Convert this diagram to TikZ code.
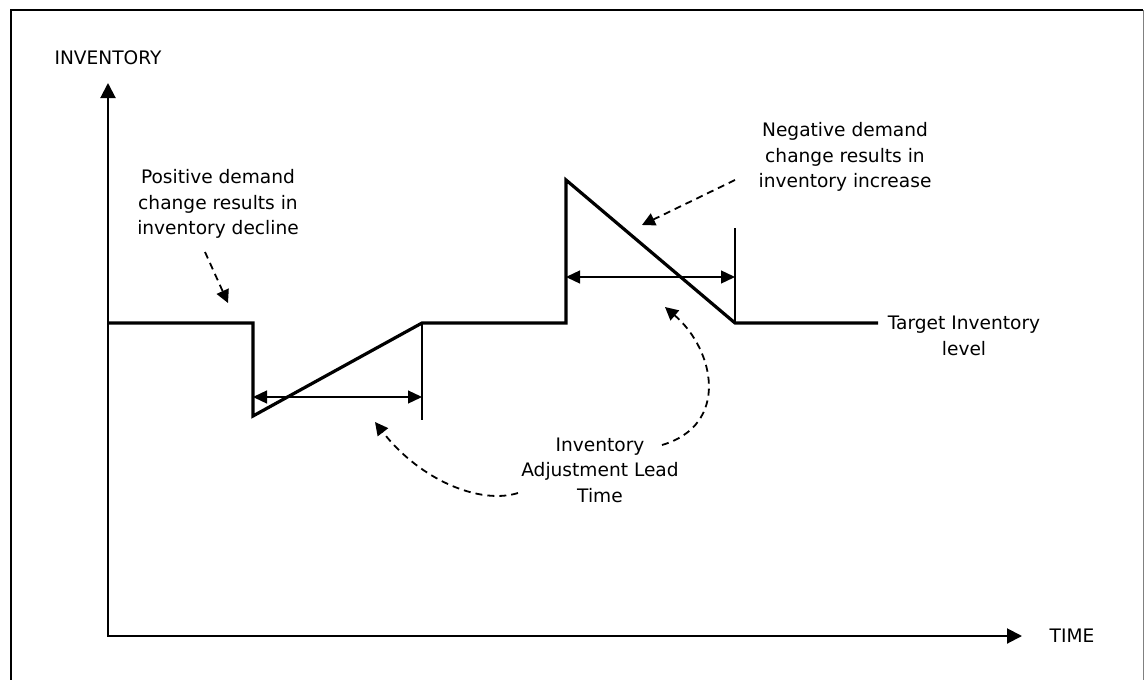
\documentclass[tikz,border=0pt]{standalone}
\usepackage{fontspec}
\setmainfont{DejaVu Sans}
\usetikzlibrary{arrows.meta}
\begin{document}
\begin{tikzpicture}[x=1pt,y=-1pt,
  lbl/.style={font=\fontsize{18.6}{25.5}\selectfont, align=center, inner sep=0pt},
  invline/.style={line width=3.2pt, line join=miter},
  axisline/.style={line width=2pt, {Triangle[length=15pt,width=15pt]}-{Triangle[length=15pt,width=15pt]}},
  leadarrow/.style={line width=1.3pt, {Triangle[length=14pt,width=13pt]}-{Triangle[length=14pt,width=13pt]}},
  tickline/.style={line width=1.5pt},
  callout/.style={line width=1.8pt, dash pattern=on 7pt off 5pt, -{Triangle[length=13pt,width=13pt]}}]
\useasboundingbox (0,0) rectangle (1144,680);
% frame
\draw[line width=2.5pt] (11,680) -- (11,10) -- (1143,10);
\draw[line width=1pt, gray] (1143,10) -- (1143,680);
% axes
\coordinate (O) at (108,636);
\coordinate (ytip) at (108,83);
\coordinate (xtip) at (1022,636);
\draw[axisline] (ytip) -- (O) -- (xtip);
\node[lbl] (ylab) at (108,58) {INVENTORY};
\node[lbl] (xlab) at (1072,636) {TIME};
% inventory curve
\coordinate (a0) at (109,323);
\coordinate (a1) at (253,323);
\coordinate (a2) at (253,416);
\coordinate (a3) at (422,323);
\coordinate (a4) at (566,323);
\coordinate (a5) at (566,180);
\coordinate (a6) at (735,323);
\coordinate (a7) at (878,323);
\draw[invline] (a0) -- (a1) -- (a2) -- (a3) -- (a4) -- (a5) -- (a6) -- (a7);
% lead time markers
\coordinate (t1) at (422,420);
\coordinate (t2) at (735,228);
\draw[tickline] (a3) -- (t1);
\draw[tickline] (a6) -- (t2);
\coordinate (l1a) at (253,397);
\coordinate (l1b) at (422,397);
\coordinate (l2a) at (566,277);
\coordinate (l2b) at (735,277);
\draw[leadarrow] (l1a) -- (l1b);
\draw[leadarrow] (l2a) -- (l2b);
% labels
\node[lbl] (pos) at (218,204) {Positive demand\\change results in\\inventory decline};
\node[lbl] (neg) at (845,157) {Negative demand\\change results in\\inventory increase};
\node[lbl] (lead) at (600,470) {Inventory\\Adjustment Lead\\Time};
\node[lbl] (tgt) at (964,336) {Target Inventory\\level};
% callouts
\coordinate (p1) at (205,252);
\coordinate (p2) at (228,303);
\draw[callout] (p1) -- (p2);
\coordinate (n1) at (735,180);
\coordinate (n2) at (642,225);
\draw[callout] (n1) -- (n2);
\coordinate (r1) at (662,445);
\coordinate (r2) at (665,307);
\draw[callout] (r1) .. controls (730,425) and (715,350) .. (r2);
\coordinate (s1) at (518,493);
\coordinate (s2) at (375,422);
\draw[callout] (s1) .. controls (480,505) and (420,480) .. (s2);
\end{tikzpicture}
\end{document}
